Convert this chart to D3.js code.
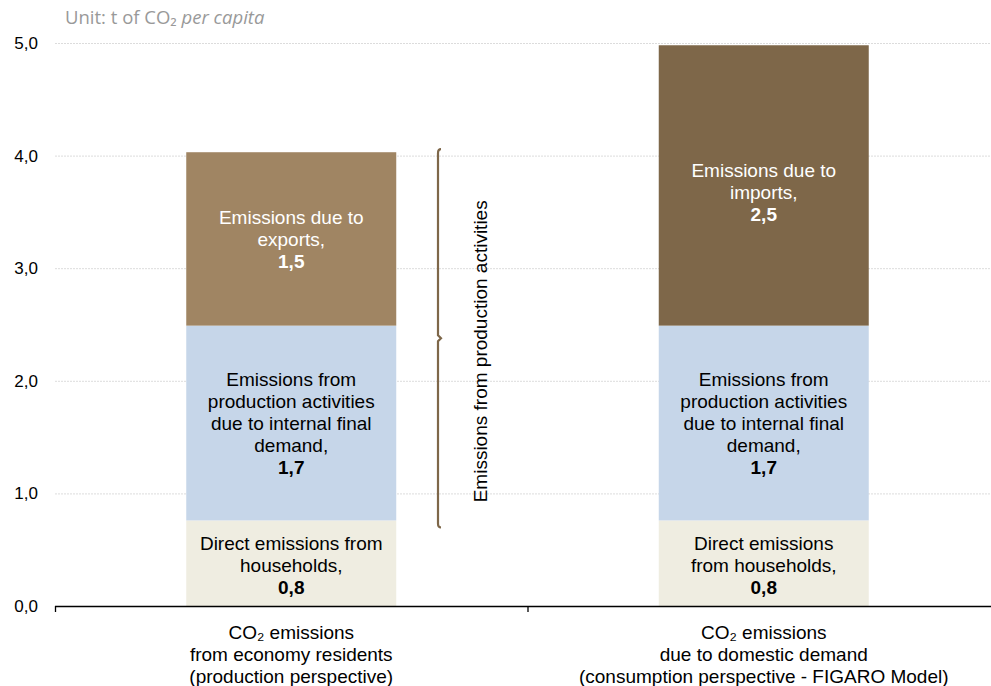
<!DOCTYPE html>
<html><head><meta charset="utf-8">
<script src="https://cdn.jsdelivr.net/npm/d3@7"></script>
<style>body{margin:0;background:#fff}svg{display:block}</style>
</head><body>
<svg id="c" width="991" height="686"></svg>
<script>
const categories = ["prod", "cons"];
const categoryLabels = [
  ["CO₂ emissions", "from economy residents", "(production perspective)"],
  ["CO₂ emissions", "due to domestic demand", "(consumption perspective - FIGARO Model)"]
];
const seriesNames = ["households", "internal", "exports", "imports"];
const households = [0.76, 0.76];
const internal = [1.73, 1.73];
const exportsV = [1.54, 0];
const importsV = [0, 2.49];
const valueLabels = {households:["0,8","0,8"], internal:["1,7","1,7"], exports:["1,5",""], imports:["","2,5"]};
const segmentText = {
  households: [["Direct emissions from","households,"],["Direct emissions","from households,"]],
  internal: [["Emissions from","production activities","due to internal final","demand,"],["Emissions from","production activities","due to internal final","demand,"]],
  exports: [["Emissions due to","exports,"],[]],
  imports: [[],["Emissions due to","imports,"]]
};
const colors = {households:"#EFEDE1", internal:"#C6D6E9", exports:"#A08563", imports:"#7E6749"};
const textColors = {households:"#000", internal:"#000", exports:"#fff", imports:"#fff"};
const yTicks = [0,1,2,3,4,5];
const braceLabel = "Emissions from production activities";

const FONT = "'Liberation Sans', Arial, sans-serif";
const svg = d3.select("#c");
const x = d3.scaleBand().domain(categories).range([55, 1000]).paddingInner(0).paddingOuter(0);
const y = d3.scaleLinear().domain([0,5]).range([606, 43]);
const barW = 210;

// unit text
const u = svg.append("text").attr("x",65).attr("y",24).attr("font-family","'Open Sans', sans-serif")
  .attr("font-size",18.5).attr("fill","#999");
u.append("tspan").text("Unit: t of CO₂");
u.append("tspan").attr("font-style","italic").text(" per capita");

// gridlines
svg.append("g").selectAll("line").data(yTicks.filter(d=>d>0)).join("line")
  .attr("x1",55).attr("x2",1000).attr("y1",d=>y(d)+0.5).attr("y2",d=>y(d)+0.5)
  .attr("stroke","#dcdcdc").attr("stroke-width",1).attr("stroke-dasharray","2,1");

// y labels
svg.append("g").selectAll("text").data(yTicks).join("text")
  .attr("x",38).attr("y",d=>y(d)).attr("dy","0.35em").attr("text-anchor","end")
  .attr("font-family",FONT).attr("font-size",17).attr("fill","#000")
  .text(d=>d3.format(".1f")(d).replace(".",","));

// stacks
const data = categories.map((c,i)=>({cat:c, households:households[i], internal:internal[i], exports:exportsV[i], imports:importsV[i]}));
const stack = d3.stack().keys(seriesNames)(data);
const bars = svg.append("g");
stack.forEach(layer=>{
  const key = layer.key;
  layer.forEach((d,i)=>{
    if (d[1]-d[0] <= 0) return;
    const cx = x(categories[i]) + x.bandwidth()/2;
    bars.append("rect").attr("x",cx-barW/2).attr("width",barW)
      .attr("y",y(d[1])).attr("height",y(d[0])-y(d[1])).attr("fill",colors[key]);
    const lines = segmentText[key][i].concat([valueLabels[key][i]]);
    const lh = 22;
    const midY = (y(d[0])+y(d[1]))/2 + (key==="imports"?7:0) + (key==="households"?2:0);
    const startY = midY - (lines.length-1)*lh/2;
    const t = bars.append("text").attr("text-anchor","middle").attr("font-family",FONT)
      .attr("font-size",19).attr("fill",textColors[key]);
    lines.forEach((ln,j)=>{
      t.append("tspan").attr("x",cx).attr("y",startY+j*lh).attr("dy","0.35em")
        .attr("font-weight", j===lines.length-1?"bold":"normal").text(ln);
    });
  });
});

// x axis
const ax = svg.append("g").attr("stroke","#000").attr("stroke-width",1.3);
ax.append("line").attr("x1",55).attr("x2",1000).attr("y1",606.5).attr("y2",606.5);
[55, x(categories[1])].forEach(px=>ax.append("line").attr("x1",px+0.5).attr("x2",px+0.5).attr("y1",606).attr("y2",612));

// category labels
categories.forEach((c,i)=>{
  const cx = x(c)+x.bandwidth()/2;
  const t = svg.append("text").attr("text-anchor","middle").attr("font-family",FONT)
    .attr("font-size",19).attr("fill","#000");
  categoryLabels[i].forEach((ln,j)=>{
    t.append("tspan").attr("x",cx).attr("y",632+j*22).attr("dy","0.35em").text(ln);
  });
});

// brace
const total1 = households[0]+internal[0]+exportsV[0];
const bTop = y(total1)-3, bBot = y(households[0])+7, bMid = (bTop+bBot)/2;
const bx = 438;
const p = d3.path();
p.moveTo(bx+3, bTop); p.quadraticCurveTo(bx, bTop, bx, bTop+4);
p.lineTo(bx, bMid-3); p.lineTo(bx+3, bMid); p.lineTo(bx, bMid+3);
p.lineTo(bx, bBot-4); p.quadraticCurveTo(bx, bBot, bx+3, bBot);
svg.append("path").attr("d",p.toString()).attr("fill","none").attr("stroke","#7E6749").attr("stroke-width",2.2);
svg.append("text").attr("transform",`translate(487,${bMid+13}) rotate(-90)`).attr("text-anchor","middle")
  .attr("font-family",FONT).attr("font-size",19).attr("fill","#000").text(braceLabel);
</script>
</body></html>
